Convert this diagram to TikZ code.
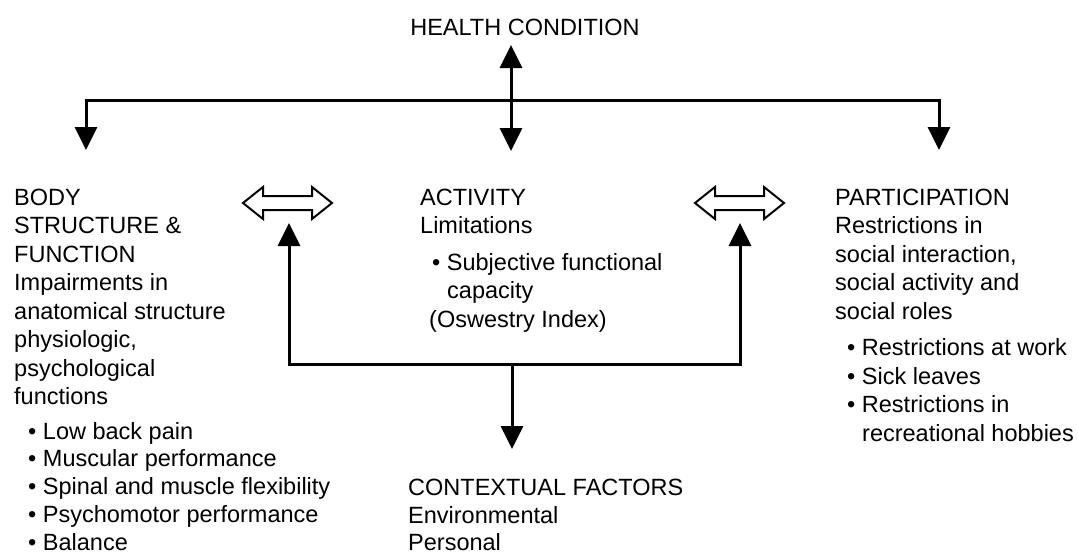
\documentclass[tikz,border=0pt]{standalone}
\usepackage{fontspec}
\setmainfont{Liberation Sans}
\usetikzlibrary{arrows.meta}
\begin{document}
\begin{tikzpicture}[x=1pt,y=-1pt,
  txt/.style={anchor=base west,inner sep=0pt,font=\fontsize{23.5}{28.5}\selectfont},
  ctitle/.style={anchor=base,inner sep=0pt,font=\fontsize{23.5}{28.5}\selectfont},
  conn/.style={line width=3pt,line join=miter,-{Triangle[length=23pt,width=22pt]}},
  both/.style={line width=3pt,{Triangle[length=23pt,width=22pt]}-{Triangle[length=23pt,width=22pt]}},
  hollow/.style={draw,line width=2pt,fill=white,line join=miter},
  pics/hollowarr/.style={code={
    \draw[hollow] (-44.5,0) -- (-24.5,-16) -- (-24.5,-7) -- (24.5,-7) -- (24.5,-16) -- (44.5,0)
      -- (24.5,16) -- (24.5,7) -- (-24.5,7) -- (-24.5,16) -- cycle;}}]
\useasboundingbox (0,0) rectangle (1078,554);

% title
\node[ctitle] (hc) at (525,35) {HEALTH CONDITION};

% body structure column
\foreach \t [count=\i] in {BODY,STRUCTURE \&,FUNCTION,Impairments in,anatomical structure,{physiologic,},psychological,functions}
  \node[txt] (b\i) at (14,{205+28.5*(\i-1)}) {\t};
\foreach \t [count=\i] in {Low back pain,Muscular performance,Spinal and muscle flexibility,Psychomotor performance,Balance}
  \node[txt] (bb\i) at (28,{439+27.9*(\i-1)}) {• \t};

% activity column
\node[txt] (a1) at (420,205) {ACTIVITY};
\node[txt] (a2) at (420,233.5) {Limitations};
\node[txt] (a3) at (432,270) {• Subjective functional};
\node[txt] (a4) at (447,298.5) {capacity};
\node[txt] (a5) at (429,327) {(Oswestry Index)};

% participation column
\foreach \t [count=\i] in {PARTICIPATION,Restrictions in,{social interaction,},social activity and,social roles}
  \node[txt] (p\i) at (835,{205+28.5*(\i-1)}) {\t};
\foreach \t [count=\i] in {Restrictions at work,Sick leaves,Restrictions in}
  \node[txt] (pb\i) at (847,{355.5+28.5*(\i-1)}) {• \t};
\node[txt] (pb4) at (862,441) {recreational hobbies};

% contextual factors
\node[txt] (c1) at (408,495) {CONTEXTUAL FACTORS};
\node[txt] (c2) at (408,523) {Environmental};
\node[txt] (c3) at (408,550.5) {Personal};

% hollow double arrows
\pic at (287.5,203) {hollowarr};
\pic at (739.5,203) {hollowarr};

% upper connector system
\coordinate (tc) at (511,100);
\coordinate (tl) at (86,100);
\coordinate (tr) at (939,100);
\coordinate (hcTip) at (511,45);
\coordinate (actTip) at (511,151);
\coordinate (bodyTip) at (86,150);
\coordinate (partTip) at (939,150);
\draw[conn] (tc) -- (tl) -- (bodyTip);
\draw[conn] (tc) -- (tr) -- (partTip);
\draw[both] (hcTip) -- (actTip);

% lower connector system
\coordinate (lc) at (512,364);
\coordinate (ll) at (289,364);
\coordinate (lr) at (740,364);
\coordinate (llTip) at (289,223);
\coordinate (lrTip) at (740,223);
\coordinate (ctxTip) at (512,449);
\draw[conn] (lc) -- (ll) -- (llTip);
\draw[conn] (lc) -- (lr) -- (lrTip);
\draw[conn] (lc) -- (ctxTip);
\end{tikzpicture}
\end{document}
